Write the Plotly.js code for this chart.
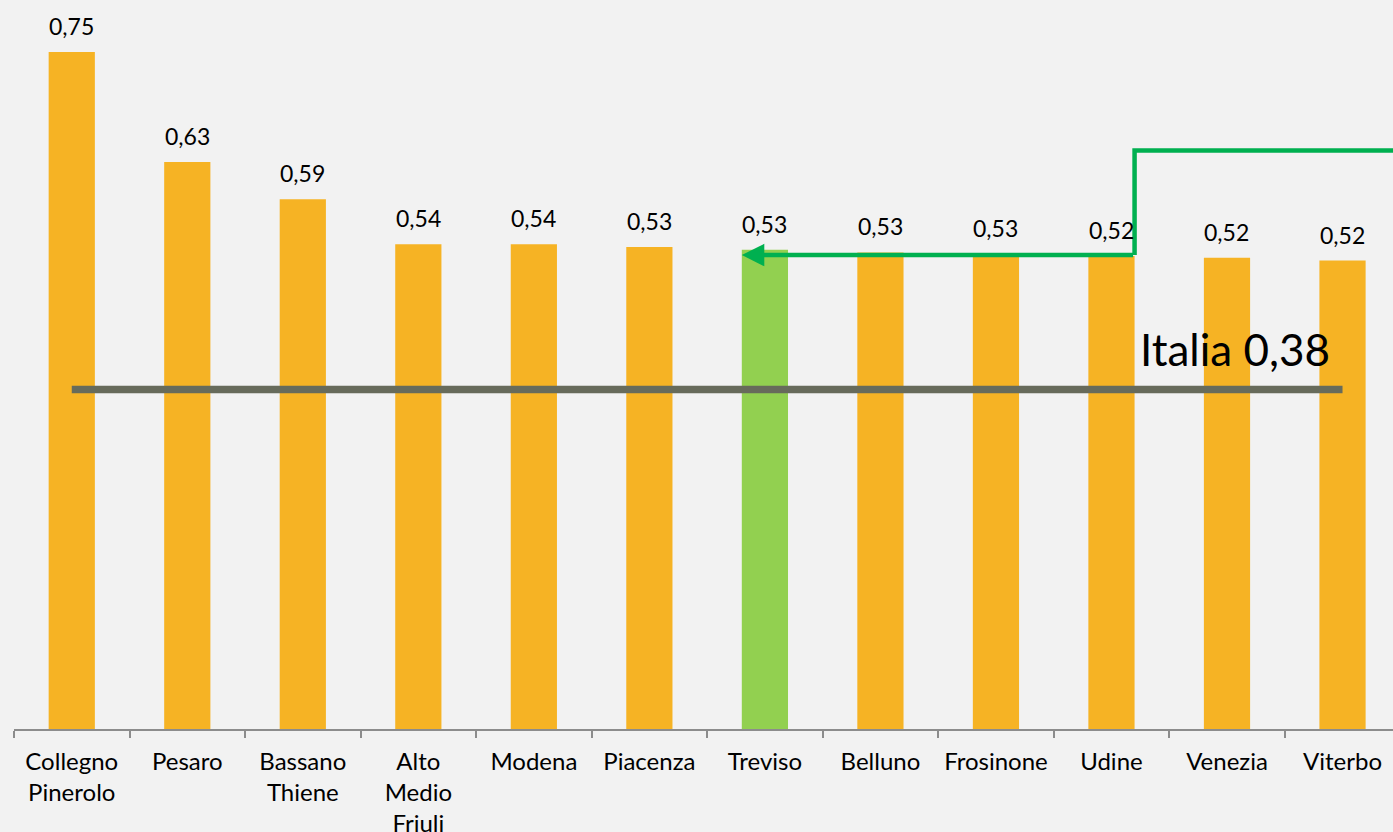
<!DOCTYPE html>
<html>
<head>
<meta charset="utf-8">
<script src="https://cdn.plot.ly/plotly-3.0.1.min.js"></script>
<style>
html,body{margin:0;padding:0;background:#F2F2F2;}
#chart{width:1393px;height:832px;}
</style>
</head>
<body>
<div id="chart"></div>
<script>
// ---- data ----
const categories = ["Collegno<br>Pinerolo", "Pesaro", "Bassano<br>Thiene", "Alto<br>Medio<br>Friuli", "Modena", "Piacenza", "Treviso", "Belluno", "Frosinone", "Udine", "Venezia", "Viterbo"];
const values = [0.750, 0.628, 0.587, 0.537, 0.537, 0.534, 0.531, 0.528, 0.526, 0.524, 0.522, 0.519];
const highlight = "Treviso";
const italiaLabel = "Italia";
const italiaValue = 0.376;

// ---- styles ----
const ORANGE = "#F6B324";
const LIGHTGREEN = "#92D050";
const ARROWGREEN = "#00B050";
const GREY = "#676B5B";
const FONT = "Lato, 'Open Sans', sans-serif";
const BAR_WIDTH = 0.4;

const fmt = v => v.toFixed(2).replace(".", ",");

const barColors = categories.map(c => c === highlight ? LIGHTGREEN : ORANGE);

const bars = {
  type: "bar",
  x: categories,
  y: values,
  width: BAR_WIDTH,
  marker: {color: barColors},
  hoverinfo: "skip",
  showlegend: false
};

const italiaLine = {
  type: "scatter",
  mode: "lines",
  x: categories,
  y: categories.map(() => italiaValue),
  line: {color: GREY, width: 7.5},
  hoverinfo: "skip",
  showlegend: false
};

const valueAnnotations = categories.map((c, i) => ({
  x: c, y: values[i], xref: "x", yref: "y",
  text: fmt(values[i]),
  showarrow: false,
  yanchor: "bottom",
  yshift: 10,
  font: {family: FONT, size: 23, color: "#000"}
}));

const hiIdx = categories.indexOf(highlight);
const udineIdx = categories.indexOf("Udine");
const venIdx = categories.indexOf("Venezia");
const arrowX0 = udineIdx + BAR_WIDTH / 2;
const arrowY = 0.525;
const pathTopY = 0.641;

const italiaAnnotation = {
  x: venIdx, y: italiaValue, xref: "x", yref: "y",
  text: italiaLabel + " " + fmt(italiaValue),
  showarrow: false,
  yanchor: "bottom",
  xshift: 8,
  yshift: 13,
  font: {family: FONT, size: 44, color: "#000"}
};

const arrowAnnotation = {
  x: hiIdx - BAR_WIDTH / 2, y: arrowY, xref: "x", yref: "y",
  ax: arrowX0, ay: arrowY, axref: "x", ayref: "y",
  text: "",
  showarrow: true,
  arrowhead: 2,
  arrowsize: 1,
  arrowwidth: 4.5,
  arrowcolor: ARROWGREEN,
  standoff: 0
};

const pathShape = {
  type: "path",
  xref: "x", yref: "y",
  path: `M ${categories.length + 0.5} ${pathTopY} L ${arrowX0} ${pathTopY} L ${arrowX0} ${arrowY}`,
  line: {color: ARROWGREEN, width: 4.5},
  layer: "above"
};

const layout = {
  width: 1393,
  height: 832,
  margin: {l: 14, r: 0, t: 0, b: 103},
  paper_bgcolor: "#F2F2F2",
  plot_bgcolor: "#F2F2F2",
  bargap: 0.6,
  xaxis: {
    type: "category",
    range: [-0.5, 11.437],
    showgrid: false,
    zeroline: false,
    showline: true,
    linecolor: "#8C8C8C",
    linewidth: 2,
    ticks: "outside",
    tickson: "boundaries",
    ticklen: 7,
    tickwidth: 2,
    tickcolor: "#8C8C8C",
    ticklabelstandoff: 10,
    tickfont: {family: FONT, size: 24, color: "#000"},
    fixedrange: true
  },
  yaxis: {
    range: [0, 0.8076],
    visible: false,
    showgrid: false,
    zeroline: false,
    fixedrange: true
  },
  annotations: valueAnnotations.concat([italiaAnnotation, arrowAnnotation]),
  shapes: [pathShape]
};

Plotly.newPlot("chart", [bars, italiaLine], layout, {displayModeBar: false, staticPlot: true});
</script>
</body>
</html>
